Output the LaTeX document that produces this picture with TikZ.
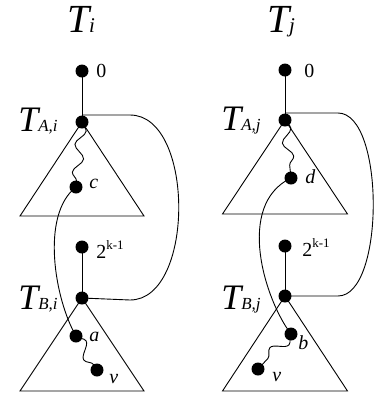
\documentclass[tikz,border=0pt]{standalone}
\usepackage{fontspec}
\setmainfont{Liberation Serif}
\usetikzlibrary{decorations.pathmorphing}
\newcommand{\bigT}[3]{{\fontsize{#1}{#1}\selectfont\itshape T}{\fontsize{#2}{#2}\selectfont\itshape #3}}
\begin{document}
\begin{tikzpicture}[x=1bp,y=-1bp,line width=0.9bp,
  dot/.style={circle,fill,inner sep=0pt,minimum size=13bp},
  lab/.style={inner sep=0pt,anchor=base west,font=\fontsize{20}{20}\selectfont},
  tlab/.style={inner sep=0pt,anchor=base east},
  wave/.style={decorate,decoration={snake,segment length=28bp,amplitude=5bp}},
  wavesh/.style={decorate,decoration={snake,segment length=30bp,amplitude=6bp}}]
\useasboundingbox (0,0) rectangle (375,396);
% ---- left tree T_i
\coordinate (Z1) at (82,71);
\coordinate (A1) at (82,122);
\coordinate (C1) at (76,187);
\coordinate (K1) at (82,247);
\coordinate (B1) at (82,298);
\coordinate (a1) at (76,336);
\coordinate (V1) at (97,370);
\draw (A1) -- ++(-62,94) -- ++(124,0) -- cycle;
\draw (B1) -- ++(-62,93) -- ++(124,0) -- cycle;
\draw (Z1) -- (A1);
\draw (K1) -- (B1);
\draw[wave] (A1) -- (C1);
\draw[wavesh] (a1) -- (V1);
\draw (C1) .. controls (40,215) and (55,300) .. (a1);
\draw ([yshift=7bp]A1) -- (130,115) .. controls (195,115) and (195,300) .. (130,300) -- (B1);
\node[dot] (z1) at (Z1) {};
\node[dot] (ta1) at (A1) {};
\node[dot] (c1) at (C1) {};
\node[dot] (k1) at (K1) {};
\node[dot] (tb1) at (B1) {};
\node[dot] (na1) at (a1) {};
\node[dot] (v1) at (V1) {};
\node[inner sep=0pt,anchor=base] (ti) at (81,32) {\bigT{40}{21}{i}};
\node[tlab] (tai) at (58,131) {\bigT{36}{17}{A,i}};
\node[tlab] (tbi) at (58,309) {\bigT{36}{17}{B,i}};
\node[lab] (l0a) at (96,77) {0};
\node[lab] (l2a) at (96,258) {2\raisebox{0.45em}{\fontsize{13}{13}\selectfont k-1}};
\node[lab] (lc) at (89,188) {\itshape c};
\node[lab] (la) at (89,341) {\itshape a};
\node[lab] (lv1) at (109,383) {\itshape v};
% ---- right tree T_j
\coordinate (Z2) at (285,70);
\coordinate (A2) at (285,120);
\coordinate (D2) at (291,178);
\coordinate (K2) at (285,246);
\coordinate (B2) at (285,296);
\coordinate (b2) at (291,334);
\coordinate (V2) at (258,369);
\draw (A2) -- ++(-62.5,94) -- ++(125,0) -- cycle;
\draw (B2) -- ++(-62.5,95) -- ++(125,0) -- cycle;
\draw (Z2) -- (A2);
\draw (K2) -- (B2);
\draw[wave] (A2) -- (D2);
\draw[wavesh] (b2) -- (V2);
\draw (D2) .. controls (235,205) and (265,300) .. (b2);
\draw ([yshift=7bp]A2) -- (338,113) .. controls (385,113) and (385,296) .. (338,296) -- (B2);
\node[dot] (z2) at (Z2) {};
\node[dot] (ta2) at (A2) {};
\node[dot] (d2) at (D2) {};
\node[dot] (k2) at (K2) {};
\node[dot] (tb2) at (B2) {};
\node[dot] (nb2) at (b2) {};
\node[dot] (v2) at (V2) {};
\node[inner sep=0pt,anchor=base] (tj) at (281,32) {\bigT{40}{21}{j}};
\node[tlab] (taj) at (261,130) {\bigT{36}{17}{A,j}};
\node[tlab] (tbj) at (261,309) {\bigT{36}{17}{B,j}};
\node[lab] (l0b) at (304,77) {0};
\node[lab] (l2b) at (302,256) {2\raisebox{0.45em}{\fontsize{13}{13}\selectfont k-1}};
\node[lab] (ld) at (305,183) {\itshape d};
\node[lab] (lb) at (298,349) {\itshape b};
\node[lab] (lv2) at (272,381) {\itshape v};
\end{tikzpicture}
\end{document}
